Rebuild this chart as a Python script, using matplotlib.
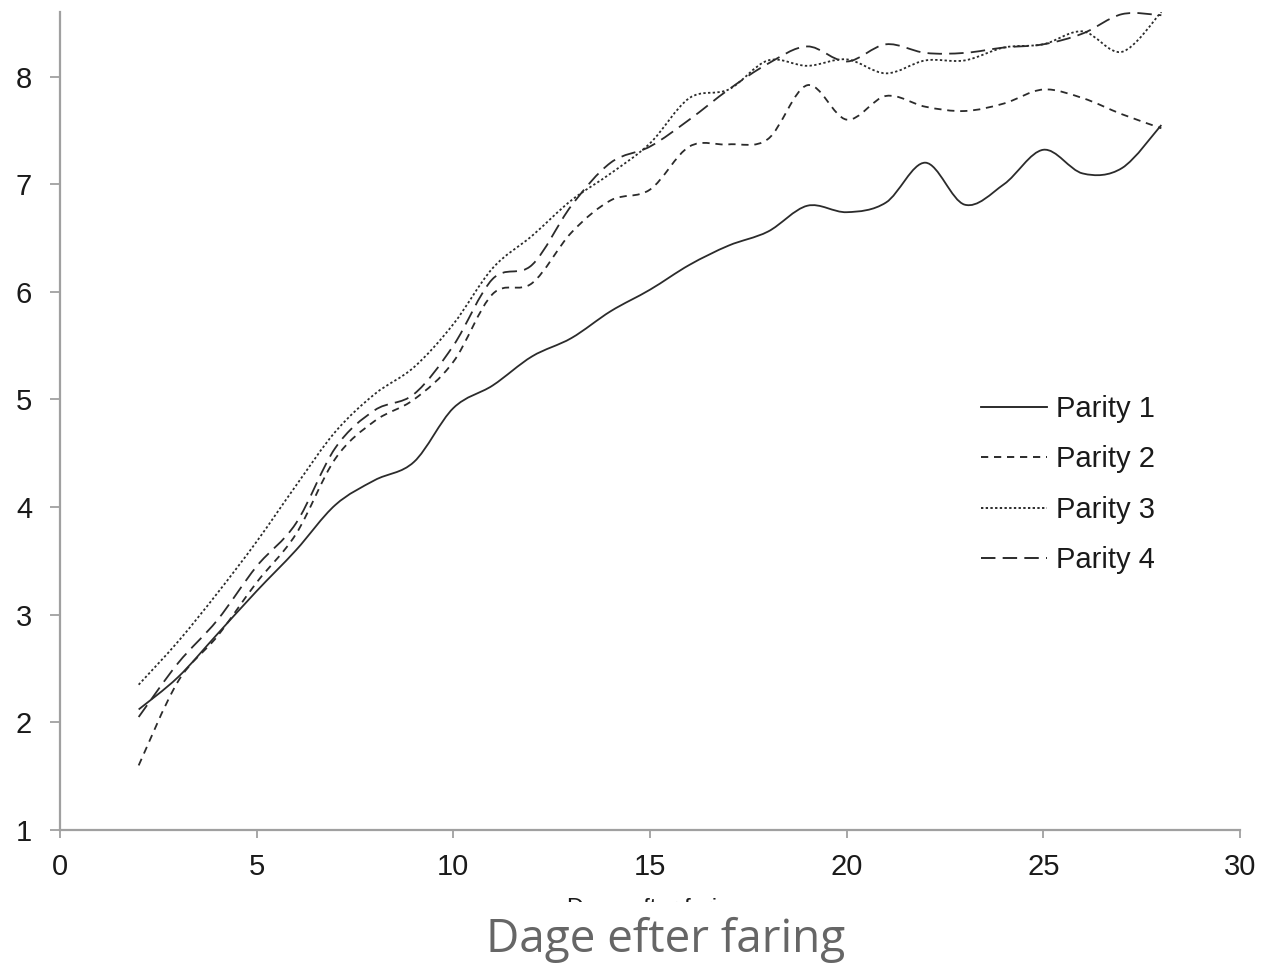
import numpy as np
import matplotlib
matplotlib.use("Agg")
import matplotlib.pyplot as plt
from matplotlib.path import Path
from matplotlib.patches import PathPatch, Rectangle
from matplotlib.lines import Line2D

days = [2, 3, 4, 5, 6, 7, 8, 9, 10, 11, 12, 13, 14, 15, 16, 17, 18, 19, 20,
        21, 22, 23, 24, 25, 26, 27, 28]
parity1 = [2.12, 2.42, 2.82, 3.22, 3.6, 4.02, 4.25, 4.42, 4.92, 5.13, 5.4, 5.57,
           5.82, 6.02, 6.25, 6.43, 6.56, 6.8, 6.74, 6.83, 7.2, 6.81, 7.0, 7.32,
           7.1, 7.15, 7.55]
parity2 = [1.6, 2.38, 2.8, 3.3, 3.75, 4.45, 4.8, 5.0, 5.35, 5.98, 6.08, 6.55,
           6.85, 6.95, 7.35, 7.37, 7.42, 7.92, 7.6, 7.82, 7.72, 7.68, 7.75, 7.88,
           7.8, 7.65, 7.52]
parity3 = [2.35, 2.75, 3.2, 3.68, 4.2, 4.7, 5.05, 5.3, 5.7, 6.22, 6.52, 6.85,
           7.1, 7.38, 7.8, 7.88, 8.15, 8.1, 8.16, 8.03, 8.15, 8.15, 8.27, 8.3,
           8.42, 8.23, 8.6]
parity4 = [2.05, 2.55, 2.95, 3.45, 3.85, 4.55, 4.9, 5.05, 5.5, 6.12, 6.25, 6.8,
           7.2, 7.35, 7.6, 7.88, 8.12, 8.28, 8.14, 8.3, 8.22, 8.22, 8.27, 8.3,
           8.4, 8.58, 8.57]
labels = ["Parity 1", "Parity 2", "Parity 3", "Parity 4"]
xticks = [0, 5, 10, 15, 20, 25, 30]
yticks = [1, 2, 3, 4, 5, 6, 7, 8]

plt.rcParams['font.family'] = ['Liberation Sans', 'DejaVu Sans']

W, H = 1263, 963
fig = plt.figure(figsize=(W / 100, H / 100), dpi=100)
ax = fig.add_axes([60 / W, 1 - 830 / H, (1240 - 60) / W, (830 - 12) / H])
ax.set_xlim(0, 30)
ax.set_ylim(1, 8.6)

axis_col = '#a0a0a0'
for s in ['top', 'right']:
    ax.spines[s].set_visible(False)
for s in ['left', 'bottom']:
    ax.spines[s].set_color(axis_col)
    ax.spines[s].set_linewidth(1.6)
ax.tick_params(axis='both', colors=axis_col, labelcolor='#1a1a1a',
               direction='out', width=1.3, labelsize=21)
ax.tick_params(axis='x', length=5.5, pad=11)
ax.tick_params(axis='y', length=7, pad=13)
ax.set_xticks(xticks)
ax.set_yticks(yticks)


def smooth_path(xs, ys):
    pts = np.column_stack([xs, ys]).astype(float)
    n = len(pts)
    verts = [pts[0]]
    codes = [Path.MOVETO]
    for i in range(n - 1):
        p0 = pts[i - 1] if i > 0 else pts[i]
        p1 = pts[i]
        p2 = pts[i + 1]
        p3 = pts[i + 2] if i + 2 < n else pts[i + 1]
        c1 = p1 + (p2 - p0) / 6.0
        c2 = p2 - (p3 - p1) / 6.0
        verts += [c1, c2, p2]
        codes += [Path.CURVE4] * 3
    return Path(verts, codes)


line_col = '#2b2b2b'
styles = [
    '-',
    (0, (4.0, 3.2)),
    (0, (1.3, 1.3)),
    (0, (8.0, 4.0)),
]
series = [parity1, parity2, parity3, parity4]
handles = []
for vals, ls, lab in zip(series, styles, labels):
    patch = PathPatch(smooth_path(days, vals), fill=False, edgecolor=line_col,
                      linewidth=1.3, linestyle=ls, capstyle='butt')
    ax.add_patch(patch)
    handles.append(Line2D([], [], color='#1a1a1a', linewidth=1.3, linestyle=ls,
                          label=lab))

leg = ax.legend(handles=handles, loc='upper left',
                bbox_to_anchor=(981 / W, 1 - 395 / H),
                bbox_transform=fig.transFigure, frameon=False,
                fontsize=21, handlelength=2.25, handletextpad=0.33,
                labelspacing=0.77, borderpad=0, borderaxespad=0)
for t in leg.get_texts():
    t.set_color('#1a1a1a')

# original (partially hidden) axis title
fig.text(655 / W, 1 - 915 / H, "Dage efter faring", ha='center', va='baseline',
         fontsize=17, color='#1a1a1a')
fig.patches.append(Rectangle((0, 0), 1, 1 - 902 / H, transform=fig.transFigure,
                             facecolor='white', edgecolor='none', zorder=5))
fig.text(666 / W, 1 - 952 / H, "Dage efter faring", ha='center', va='baseline',
         fontsize=33, color='#666666', family=['Open Sans', 'DejaVu Sans'],
         zorder=6)

fig.savefig("out.png", dpi=100)
